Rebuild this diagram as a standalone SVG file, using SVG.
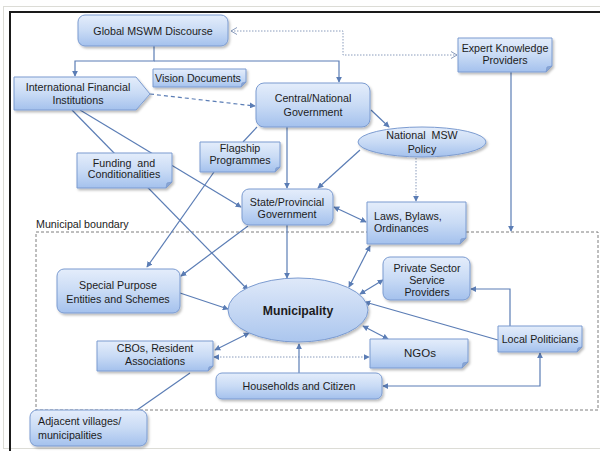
<svg xmlns="http://www.w3.org/2000/svg" width="600" height="451" viewBox="0 0 600 451">
<defs>
<linearGradient id="g" x1="0" y1="0" x2="0" y2="1">
<stop offset="0" stop-color="#e4edfb"/>
<stop offset="0.5" stop-color="#c9dbf5"/>
<stop offset="1" stop-color="#a4c1ed"/>
</linearGradient>
<linearGradient id="ge" x1="0" y1="0" x2="0" y2="1">
<stop offset="0" stop-color="#dfe9f9"/>
<stop offset="1" stop-color="#abc6ee"/>
</linearGradient>
<filter id="sh" x="-10%" y="-10%" width="130%" height="140%">
<feDropShadow dx="1.5" dy="2" stdDeviation="1.2" flood-color="#000" flood-opacity="0.25"/>
</filter>
<marker id="a" viewBox="0 0 8 8" refX="7" refY="4" markerWidth="6" markerHeight="6" markerUnits="userSpaceOnUse" orient="auto-start-reverse">
<path d="M0,0 L8,4 L0,8 z" fill="#5b7db5"/>
</marker>
<marker id="o" viewBox="0 0 8 8" refX="7" refY="4" markerWidth="8" markerHeight="8" markerUnits="userSpaceOnUse" orient="auto-start-reverse">
<path d="M1,0.5 L7,4 L1,7.5" fill="none" stroke="#8a9cbc" stroke-width="1"/>
</marker>
</defs>
<style>
.n{fill:url(#g);stroke:#7b9bd0;stroke-width:1;filter:url(#sh)}
.f{fill:#8aa6d2;stroke:#7b9bd0;stroke-width:0.8}
.t{font-family:"Liberation Sans",Arial,sans-serif;font-size:10.7px;fill:#1c1c1c;text-anchor:middle}
.l{text-anchor:start}
.c{fill:none;stroke:#5b7db5;stroke-width:1.2}
.ar{marker-end:url(#a)}
.da{marker-start:url(#a);marker-end:url(#a)}
.dot{fill:none;stroke:#8a9cbc;stroke-width:1;stroke-dasharray:1.5 1.5}
</style>
<rect x="0" y="0" width="600" height="451" fill="#ffffff"/>
<rect x="3.5" y="6.5" width="600" height="442" fill="none" stroke="#dcdcd6" stroke-width="1"/>
<path d="M10,451 V12 H600" fill="none" stroke="#1a1a1a" stroke-width="2"/>

<g id="boundary">
<rect x="36" y="232" width="562" height="178" fill="none" stroke="#7f7f7f" stroke-width="1" stroke-dasharray="3 2"/>
<text class="t l" x="36" y="228">Municipal boundary</text>
</g>

<g id="connectors">
<path class="c" d="M154,46 V61 H75 V76" marker-end="url(#a)"/>
<path class="c" d="M154,61 H339 V82" marker-end="url(#a)"/>
<path class="dot" d="M231,31 H343 V55 H457" marker-start="url(#o)" marker-end="url(#o)"/>
<path class="c" d="M511,72 V231" marker-end="url(#a)"/>
<path class="c" d="M150,94 L255,106" stroke-dasharray="4 3" marker-end="url(#a)"/>
<path class="c" d="M72,110 L248,290" marker-end="url(#a)"/>
<path class="c" d="M80,110 L241,207" marker-end="url(#a)"/>
<path class="c" d="M371,110 L389,127" marker-end="url(#a)"/>
<path class="c" d="M287,127 V188" marker-end="url(#a)"/>
<path class="c" d="M257,127 L243,142"/>
<path class="c" d="M214,172 L147,267" marker-end="url(#a)"/>
<path class="c" d="M360,150 L318,188" stroke="#8fa5c9" marker-end="url(#a)"/>
<path class="dot" d="M416,158 V201" marker-end="url(#a)"/>
<path class="c da" d="M334,207 L366,222"/>
<path class="c" d="M287,225 V278" marker-end="url(#a)"/>
<path class="c" d="M248,226 L181,276" marker-end="url(#a)"/>
<path class="c" d="M180,293 L228,309" marker-end="url(#a)"/>
<path class="c da" d="M370,246 L349,287"/>
<path class="c da" d="M360,294 L383,280"/>
<path class="c" d="M498,340 L365,302" marker-end="url(#a)"/>
<path class="c" d="M510,326 V289 H471" marker-end="url(#a)"/>
<path class="c da" d="M363,326 L388,339"/>
<path class="dot" d="M214,357 H369" marker-start="url(#a)" marker-end="url(#a)"/>
<path class="c da" d="M215,350 L249,333"/>
<path class="c" d="M299,373 V344" marker-end="url(#a)"/>
<path class="c da" d="M540,353 V386 H383"/>
<path class="c" d="M137,410 L190,373"/>
</g>

<g id="global">
<rect class="n" x="78" y="15" width="150" height="31" rx="7"/>
<text class="t" x="153" y="35">Global MSWM Discourse</text>
</g>
<g id="expert">
<path class="n" d="M458,38 H552 V66 L546,72 H458 Z"/>
<path class="f" d="M552,66 L546,72 L547,67 Z"/>
<text class="t" x="505" y="52">Expert Knowledge</text>
<text class="t" x="505" y="64">Providers</text>
</g>
<g id="ifi">
<path class="n" d="M14,77 H136 L150,94 L136,110 H14 Z"/>
<text class="t" x="78" y="91">International Financial</text>
<text class="t" x="78" y="104">Institutions</text>
</g>
<g id="vision">
<path class="n" d="M153,69 H246 V82 L241,87 H153 Z"/>
<path class="f" d="M246,82 L241,87 L242,83 Z"/>
<text class="t" x="198" y="82">Vision Documents</text>
</g>
<g id="central">
<rect class="n" x="256" y="83" width="114" height="44" rx="8"/>
<text class="t" x="313" y="102">Central/National</text>
<text class="t" x="313" y="116">Government</text>
</g>
<g id="policy">
<ellipse class="n" cx="422" cy="142" rx="64" ry="15"/>
<text class="t" x="422" y="139" xml:space="preserve">National  MSW</text>
<text class="t" x="422" y="153">Policy</text>
</g>
<g id="flagship">
<path class="n" d="M200,142 H280 V167 L275,172 H200 Z"/>
<path class="f" d="M280,167 L275,172 L276,168 Z"/>
<text class="t" x="240" y="152">Flagship</text>
<text class="t" x="240" y="164">Programmes</text>
</g>
<g id="funding">
<path class="n" d="M77,153 H172 V182 L166,188 H77 Z"/>
<path class="f" d="M172,182 L166,188 L167,183 Z"/>
<text class="t" x="124" y="167" xml:space="preserve">Funding  and</text>
<text class="t" x="124" y="178">Conditionalities</text>
</g>
<g id="state">
<rect class="n" x="242" y="189" width="91" height="36" rx="7"/>
<text class="t" x="287" y="206">State/Provincial</text>
<text class="t" x="287" y="218">Government</text>
</g>
<g id="laws">
<path class="n" d="M367,202 H466 V238 L460,244 H367 Z"/>
<path class="f" d="M466,238 L460,244 L461,239 Z"/>
<text class="t l" x="374" y="220">Laws, Bylaws,</text>
<text class="t l" x="374" y="232">Ordinances</text>
</g>
<g id="special">
<rect class="n" x="57" y="269" width="123" height="44" rx="7"/>
<text class="t" x="118" y="289">Special Purpose</text>
<text class="t" x="118" y="303">Entities and Schemes</text>
</g>
<g id="private">
<rect class="n" x="383" y="257" width="87" height="43" rx="7"/>
<text class="t" x="427" y="272">Private Sector</text>
<text class="t" x="427" y="284">Service</text>
<text class="t" x="427" y="296">Providers</text>
</g>
<g id="municipality">
<ellipse class="n" cx="298" cy="310" rx="70" ry="32" style="fill:url(#ge)"/>
<text class="t" x="298" y="315" style="font-weight:bold;font-size:12.2px">Municipality</text>
</g>
<g id="politicians">
<path class="n" d="M498,326 H582 V347 L577,352 H498 Z"/>
<path class="f" d="M582,347 L577,352 L578,348 Z"/>
<text class="t" x="540" y="343">Local Politicians</text>
</g>
<g id="ngos">
<path class="n" d="M370,339 H468 V362 L462,368 H370 Z"/>
<path class="f" d="M468,362 L462,368 L463,363 Z"/>
<text class="t" x="420" y="357" style="font-size:11.5px">NGOs</text>
</g>
<g id="cbos">
<path class="n" d="M97,341 H213 V366 L208,371 H97 Z"/>
<path class="f" d="M213,366 L208,371 L209,367 Z"/>
<text class="t" x="155" y="352">CBOs, Resident</text>
<text class="t" x="155" y="365">Associations</text>
</g>
<g id="households">
<rect class="n" x="216" y="373" width="166" height="26" rx="6"/>
<text class="t" x="299" y="390">Households and Citizen</text>
</g>
<g id="adjacent">
<rect class="n" x="30" y="410" width="117" height="36" rx="7"/>
<text class="t l" x="38" y="425">Adjacent villages/</text>
<text class="t l" x="38" y="439">municipalities</text>
</g>
</svg>
